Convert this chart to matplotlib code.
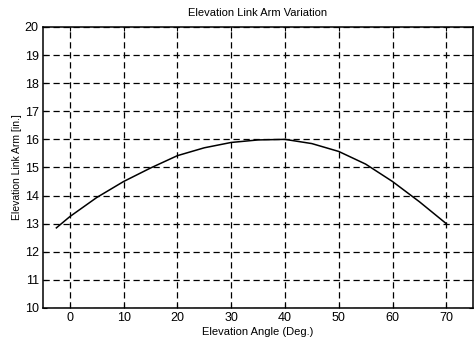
import matplotlib
matplotlib.use('Agg')
import matplotlib.pyplot as plt

plt.rcParams['font.family'] = ['Liberation Sans', 'DejaVu Sans']

# elevation angle (deg) vs link arm (in.)
angle = [-2.5, 0, 5, 10, 15, 20, 25, 30, 35, 40, 45, 50, 55, 60, 65, 70]
arm = [12.85, 13.25, 13.93, 14.5, 14.98, 15.42, 15.7, 15.89, 15.98, 16.0,
       15.85, 15.57, 15.12, 14.5, 13.78, 13.0]
xticks = [0, 10, 20, 30, 40, 50, 60, 70]
yticks = [10, 11, 12, 13, 14, 15, 16, 17, 18, 19, 20]

fig = plt.figure(figsize=(4.77, 3.46), dpi=100)
ax = fig.add_axes([0.090, 0.110, 0.902, 0.812])
ax.plot(angle, arm, color='black', linewidth=1.1)
ax.set_xlim(-5, 75)
ax.set_ylim(10, 20)
ax.set_xticks(xticks)
ax.set_yticks(yticks)
ax.grid(True, color='black', linestyle=(0, (5, 3)), linewidth=0.9)
ax.tick_params(direction='in', top=True, right=True, labelsize=9, length=3,
               color='black', pad=3)
for s in ax.spines.values():
    s.set_linewidth(1.1)
ax.set_title('Elevation Link Arm Variation', fontsize=8, pad=8)
ax.set_xlabel('Elevation Angle (Deg.)', fontsize=8, labelpad=2)
ax.set_ylabel('Elevation Link Arm [in.]', fontsize=7.5, labelpad=2)
fig.savefig('out.png', dpi=100)
